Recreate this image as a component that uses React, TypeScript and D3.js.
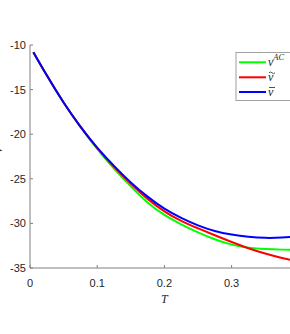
import React from 'react';
import * as d3 from 'd3';

const temps = [0.005, 0.025, 0.05, 0.075, 0.1, 0.125, 0.15, 0.175, 0.2, 0.225, 0.25, 0.275, 0.3, 0.325, 0.35, 0.375, 0.4];
const nuAC = [-10.8, -13.4, -16.45, -19.15, -21.65, -23.85, -25.85, -27.65, -29.05, -30.1, -31.0, -31.78, -32.38, -32.72, -32.88, -32.94, -32.95];
const nuTilde = [-10.8, -13.4, -16.45, -19.15, -21.55, -23.65, -25.55, -27.25, -28.65, -29.72, -30.55, -31.33, -32.08, -32.78, -33.38, -33.88, -34.3];
const nuBar = [-10.8, -13.4, -16.45, -19.15, -21.5, -23.55, -25.4, -27.0, -28.35, -29.38, -30.22, -30.85, -31.25, -31.5, -31.62, -31.58, -31.42];

const xTicks = [0, 0.1, 0.2, 0.3];
const yTicks = [-10, -15, -20, -25, -30, -35];

const series = [
  { name: 'ac', values: nuAC, color: '#00ff00' },
  { name: 'tilde', values: nuTilde, color: '#ff0000' },
  { name: 'bar', values: nuBar, color: '#0000ff' },
];

const W = 290;
const H = 334;

export default function App() {
  const x = d3.scaleLinear().domain([0, 0.4]).range([30, 298.8]);
  const y = d3.scaleLinear().domain([-35, -10]).range([268, 45]);

  const line = d3.line<number>()
    .x((_, i) => x(temps[i]))
    .y(d => y(d))
    .curve(d3.curveNatural);

  const axisColor = '#808080';
  const textColor = '#262626';
  const font = '"Liberation Sans", Arial, sans-serif';
  const serif = '"Liberation Serif", serif';

  // legend box + rows
  const lg = { left: 236, top: 52.5, bottom: 100.5, x1: 239, x2: 266, tx: 268 };
  const rows = [62.3, 77.3, 92];

  return (
    <svg width={W} height={H} style={{ position: 'absolute', left: 0, top: 0, background: '#fff' }}>
      <rect width={W} height={H} fill="#fff" />
      {series.map(s => (
        <path key={s.name} d={line(s.values) || ''} fill="none" stroke={s.color} strokeWidth={2} />
      ))}

      {/* axes */}
      <line x1={30} x2={W} y1={268} y2={268} stroke={axisColor} strokeWidth={1} />
      <line x1={30} x2={30} y1={45} y2={268} stroke={axisColor} strokeWidth={1} />
      {xTicks.map(t => (
        <g key={t}>
          <line x1={x(t)} x2={x(t)} y1={268} y2={265} stroke={axisColor} />
          <text x={x(t)} y={287} textAnchor="middle" fontFamily={font} fontSize={11} fill={textColor}>{t}</text>
        </g>
      ))}
      {yTicks.map(t => (
        <g key={t}>
          <line x1={30} x2={33} y1={y(t)} y2={y(t)} stroke={axisColor} />
          <text x={26} y={y(t) + 4} textAnchor="end" fontFamily={font} fontSize={11} fill={textColor}>{t}</text>
        </g>
      ))}
      <text x={x(0.2)} y={303} textAnchor="middle" fontFamily={serif} fontStyle="italic" fontSize={12} fill={textColor}>T</text>
      <text transform="translate(1.5,150) rotate(-90)" textAnchor="middle" fontFamily={serif} fontStyle="italic" fontSize={12} fill={textColor}>ν</text>

      {/* legend */}
      <rect x={lg.left} y={lg.top} width={W - lg.left + 10} height={lg.bottom - lg.top} fill="#fff" stroke="#a0a0a0" strokeWidth={1} />
      {series.map((s, i) => (
        <line key={s.name} x1={lg.x1} x2={lg.x2} y1={rows[i]} y2={rows[i]} stroke={s.color} strokeWidth={2} />
      ))}
      <text x={lg.tx} y={65.5} fontFamily={serif} fontStyle="italic" fontSize={12} fill={textColor}>
        ν<tspan dy={-5.5} fontSize={8.5}>AC</tspan>
      </text>
      <text x={lg.tx} y={80.5} fontFamily={serif} fontStyle="italic" fontSize={12} fill={textColor}>ν</text>
      <path d={`M${lg.tx + 1},${72.8} q1.5,-1.6 3,0 t3,0`} fill="none" stroke={textColor} strokeWidth={0.8} />
      <text x={lg.tx} y={95.5} fontFamily={serif} fontStyle="italic" fontSize={12} fill={textColor}>ν</text>
      <line x1={lg.tx + 1} x2={lg.tx + 7} y1={87.5} y2={87.5} stroke={textColor} strokeWidth={0.8} />
    </svg>
  );
}
